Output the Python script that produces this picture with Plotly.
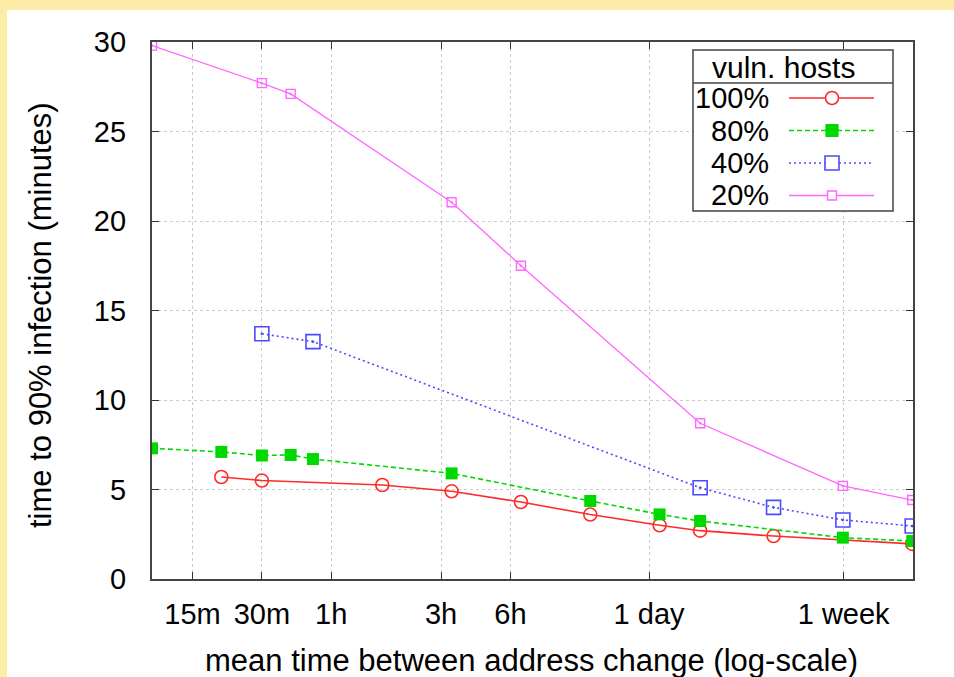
import plotly.graph_objects as go

# ---- data (x in minutes, y in minutes to 90% infection) ----
x_100 = [20, 30, 100, 200, 400, 800, 1600, 2400, 5000, 20000]
y_100 = [5.7, 5.5, 5.25, 4.9, 4.3, 3.6, 3.0, 2.7, 2.4, 1.96]

x_80 = [10, 20, 30, 40, 50, 200, 800, 1600, 2400, 10000, 20000]
y_80 = [7.3, 7.1, 6.9, 6.93, 6.7, 5.9, 4.36, 3.61, 3.24, 2.31, 2.12]

x_40 = [30, 50, 2400, 5000, 10000, 20000]
y_40 = [13.7, 13.26, 5.1, 4.0, 3.3, 2.96]

x_20 = [10, 30, 40, 200, 400, 2400, 10000, 20000]
y_20 = [29.8, 27.7, 27.1, 21.05, 17.5, 8.7, 5.2, 4.41]

series_names = ["100%", "80%", "40%", "20%"]
tick_vals = [15, 30, 60, 180, 360, 1440, 10080]
tick_text = ["15m", "30m", "1h", "3h", "6h", "1 day", "1 week"]
y_ticks = [0, 5, 10, 15, 20, 25, 30]

# ---- styles ----
RED = "#ff2a2a"
GREEN = "#00d800"
BLUE = "#4a4aff"
MAGENTA = "#ff66ff"
YELLOW = "#fdeca8"
FONT = "Liberation Sans"

W, H = 954, 677
L, R, T, B = 152, 913, 42, 579


def px(xp):
    return (xp - L) / (R - L)


def py(yp):
    return (B - yp) / (B - T)


styles = [
    dict(color=RED, dash="solid", width=1.6, symbol="circle-open", size=13, mline=1.6),
    dict(color=GREEN, dash="5px,3px", width=1.6, symbol="square", size=12, mline=0),
    dict(color=BLUE, dash="2px,3px", width=1.6, symbol="square-open-dot", size=14, mline=1.6),
    dict(color=MAGENTA, dash="solid", width=1.3, symbol="square-open-dot", size=9, mline=1.4),
]
xs = [x_100, x_80, x_40, x_20]
ys = [y_100, y_80, y_40, y_20]

fig = go.Figure()
for name, xv, yv, st in zip(series_names, xs, ys, styles):
    fig.add_trace(go.Scatter(
        x=xv, y=yv, name=name, mode="lines+markers",
        line=dict(color=st["color"], dash=st["dash"], width=st["width"]),
        marker=dict(symbol=st["symbol"], size=st["size"], color=st["color"],
                    line=dict(color=st["color"], width=st["mline"])),
        showlegend=False,
    ))

shapes = []
# white page area over yellow paper
shapes.append(dict(type="rect", xref="paper", yref="paper", layer="below",
                   x0=px(7), x1=px(W + 5), y0=py(10), y1=py(H + 5),
                   fillcolor="white", line=dict(width=0)))

# manual legend (gnuplot style: label left, sample right)
lx0, lx1, ly0, ly1 = 693, 893, 50, 211
shapes.append(dict(type="rect", xref="paper", yref="paper",
                   x0=px(lx0), x1=px(lx1), y0=py(ly0), y1=py(ly1),
                   fillcolor="white", line=dict(color="#444444", width=1.5)))
shapes.append(dict(type="line", xref="paper", yref="paper",
                   x0=px(lx0), x1=px(lx1), y0=py(83), y1=py(83),
                   line=dict(color="#444444", width=1.5)))
entry_y = [98, 130.5, 163, 195.5]
annotations = [dict(text="vuln. hosts", xref="paper", yref="paper", x=px(783), y=py(67),
                    xanchor="center", yanchor="middle", showarrow=False,
                    font=dict(family=FONT, size=30, color="black"))]
for name, st, ey in zip(series_names, styles, entry_y):
    annotations.append(dict(text=name, xref="paper", yref="paper", x=px(771), y=py(ey),
                            xanchor="right", yanchor="middle", showarrow=False,
                            font=dict(family=FONT, size=29, color="black")))
    shapes.append(dict(type="line", xref="paper", yref="paper",
                       x0=px(789), x1=px(874), y0=py(ey), y1=py(ey),
                       line=dict(color=st["color"], width=st["width"], dash=st["dash"])))
    half = st["size"] / 2
    kind = "circle" if st["symbol"].startswith("circle") else "rect"
    filled = st["symbol"] == "square"
    shapes.append(dict(type=kind, xref="paper", yref="paper",
                       xsizemode="pixel", ysizemode="pixel",
                       xanchor=px(832), yanchor=py(ey),
                       x0=-half, x1=half, y0=-half, y1=half,
                       fillcolor=st["color"] if filled else "white",
                       line=dict(color=st["color"], width=max(st["mline"], 1.2))))

# axis titles placed like the gnuplot original
annotations.append(dict(text="mean time between address change (log-scale)",
                        xref="paper", yref="paper", x=px(531), y=py(660),
                        xanchor="center", yanchor="middle", showarrow=False,
                        font=dict(family=FONT, size=31, color="black")))
annotations.append(dict(text="time to 90% infection (minutes)", textangle=-90,
                        xref="paper", yref="paper", x=px(40), y=py(315),
                        xanchor="center", yanchor="middle", showarrow=False,
                        font=dict(family=FONT, size=31, color="black")))

fig.update_layout(
    width=W, height=H,
    margin=dict(l=L, r=W - R, t=T, b=H - B, pad=0),
    paper_bgcolor=YELLOW, plot_bgcolor="rgba(0,0,0,0)",
    font=dict(family=FONT, size=29, color="black"),
    shapes=shapes, annotations=annotations,
    showlegend=False,
)
fig.update_xaxes(
    type="log", range=[1.0, 4.3045],
    tickvals=tick_vals, ticktext=tick_text,
    ticks="inside", ticklen=7, tickcolor="#333333", tickwidth=1.2,
    showline=True, linecolor="#444444", linewidth=2.2, mirror="ticks",
    showgrid=True, gridcolor="#cccccc", griddash="dot", gridwidth=1,
    zeroline=False, ticklabelstandoff=8,
)
fig.update_yaxes(
    range=[0, 30], tickvals=y_ticks,
    ticks="inside", ticklen=7, tickcolor="#333333", tickwidth=1.2,
    showline=True, linecolor="#444444", linewidth=2.2, mirror="ticks",
    showgrid=True, gridcolor="#cccccc", griddash="dot", gridwidth=1,
    zeroline=False, ticklabelstandoff=18,
)

fig.write_html(
    "out.html",
    config={"displayModeBar": False},
    post_script="document.body.style.margin='0';document.body.style.padding='0';"
                "document.body.style.overflow='hidden';",
)
